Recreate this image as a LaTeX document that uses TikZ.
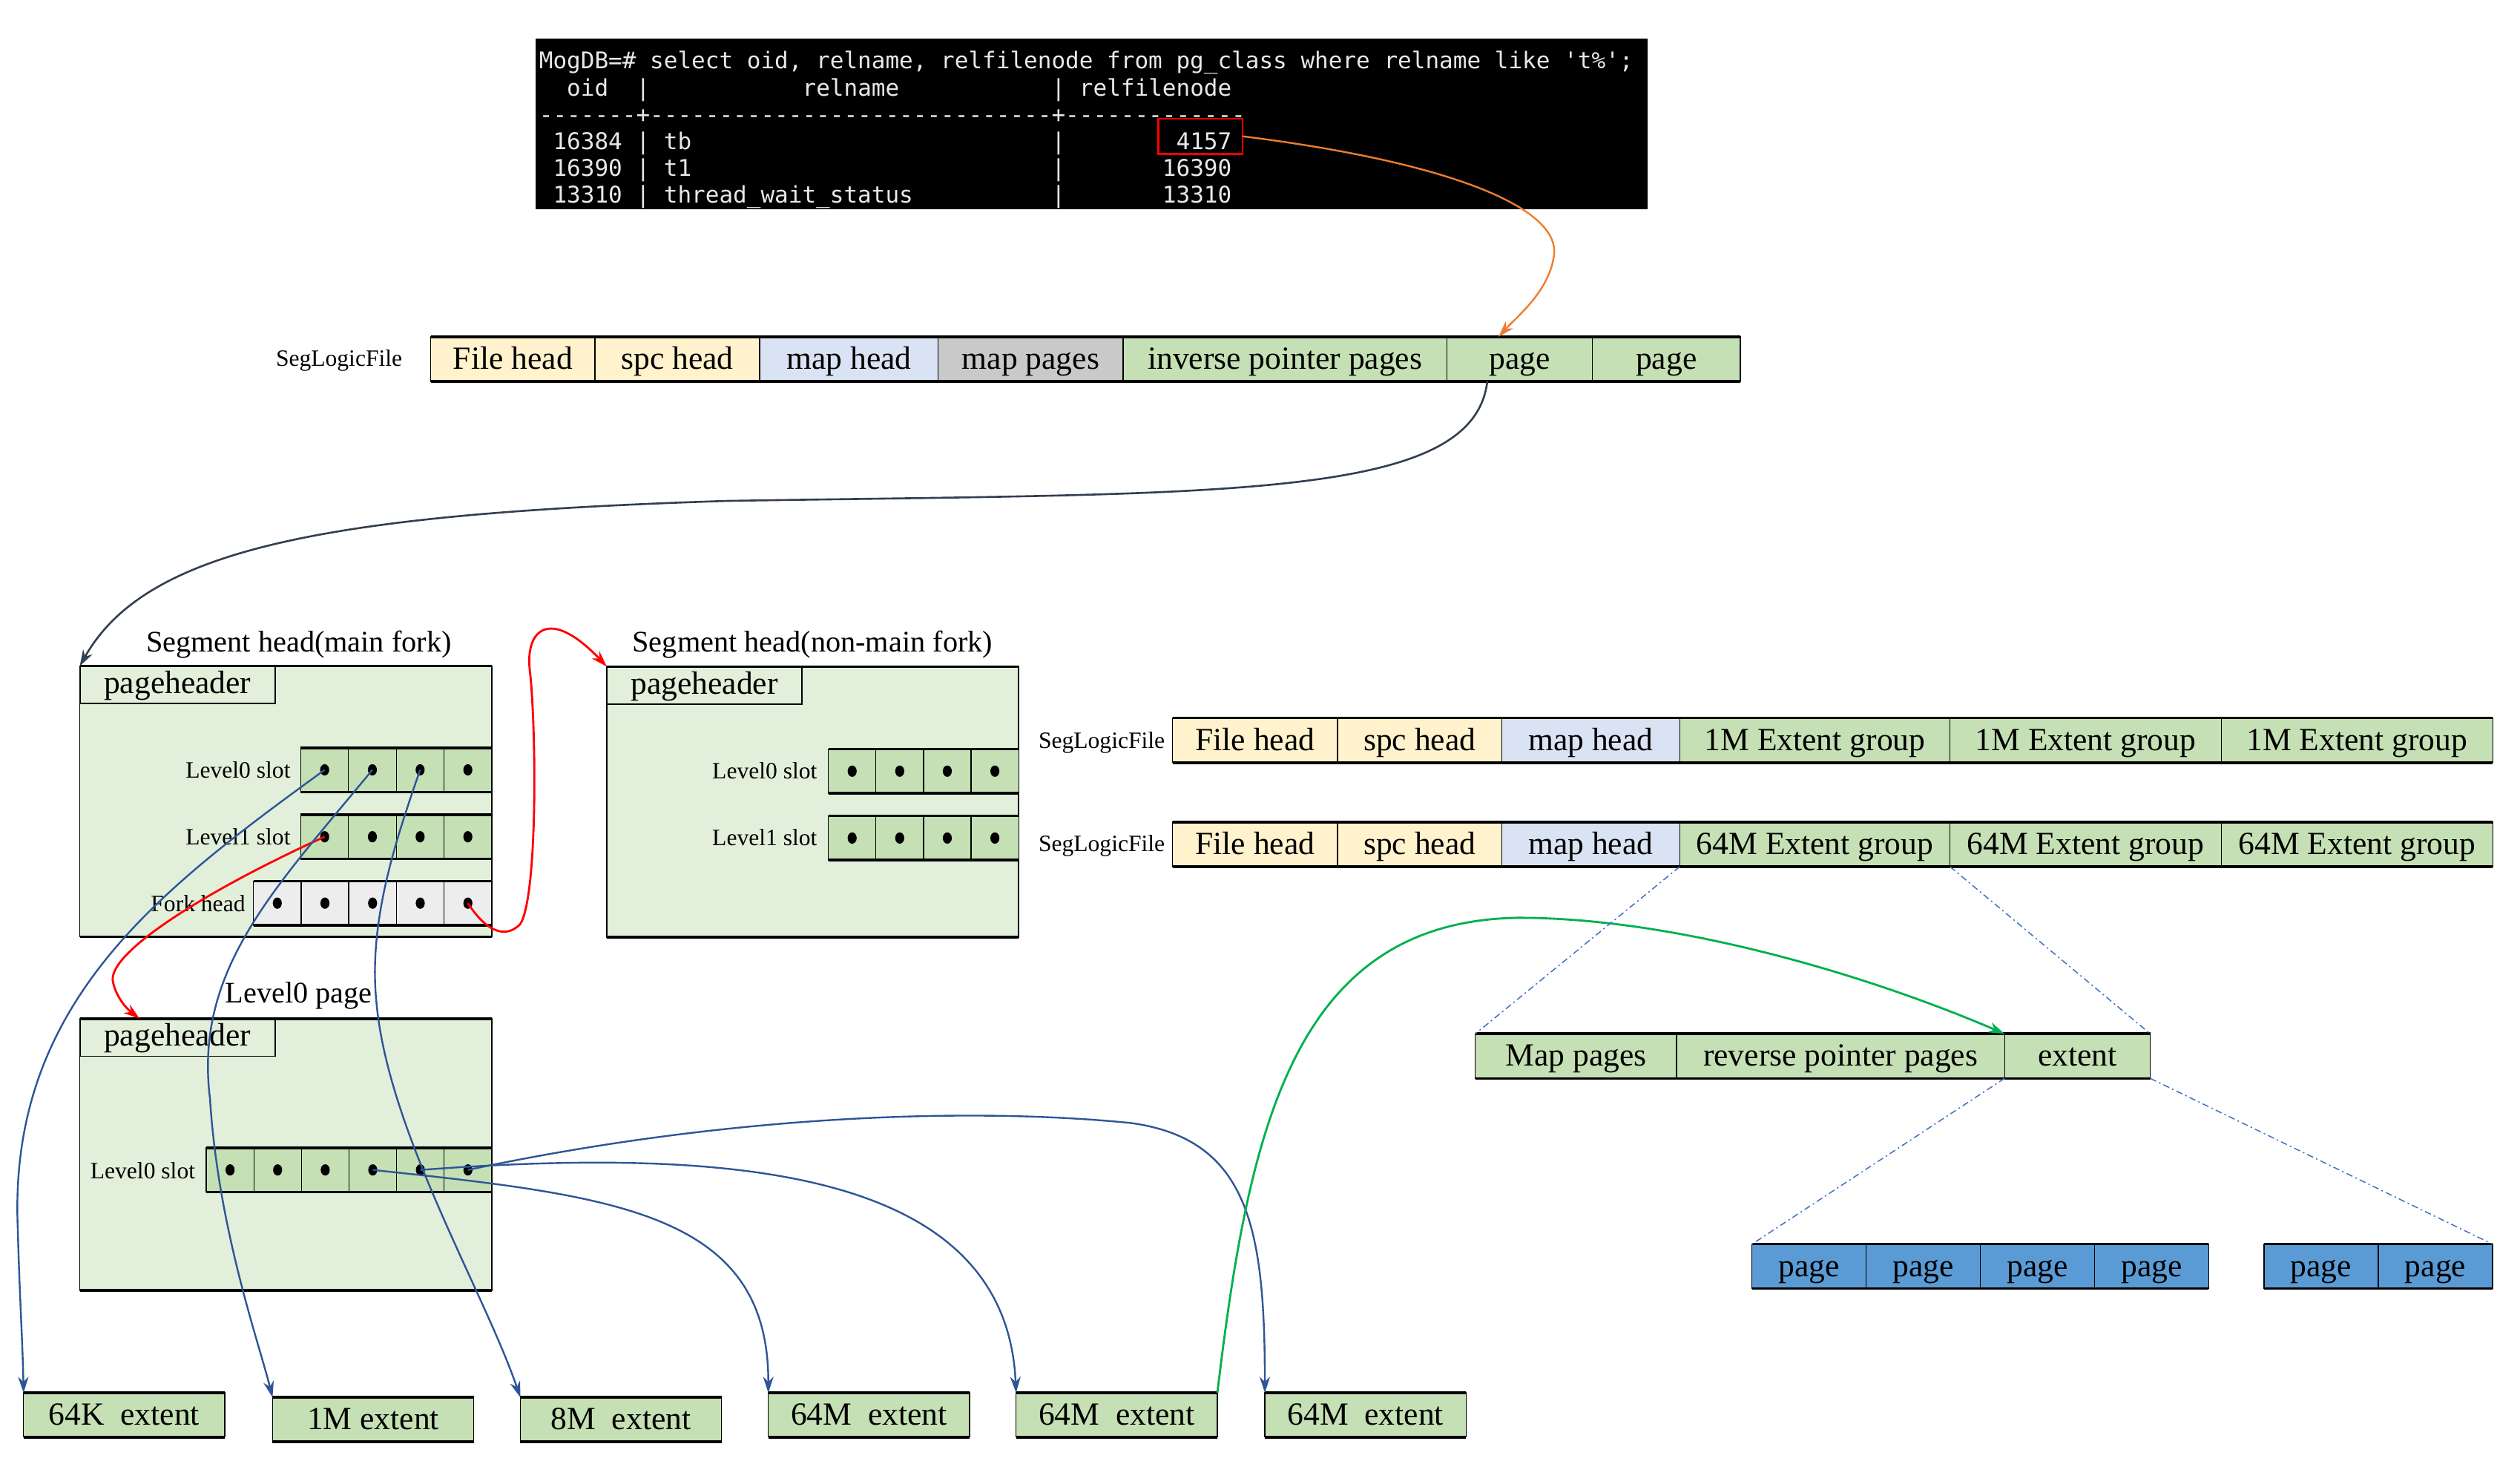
\documentclass[tikz,border=0pt]{standalone}
\usepackage{fontspec}
\setmainfont{Liberation Serif}
\newfontfamily\termfont{DejaVu Sans Mono}
\usetikzlibrary{arrows.meta,calc}
\definecolor{cyel}{HTML}{FFF2CC}
\definecolor{cblu}{HTML}{DAE3F3}
\definecolor{cgry}{HTML}{C9C9C9}
\definecolor{cgrn}{HTML}{C5E0B4}
\definecolor{clgrn}{HTML}{E2EFDA}
\definecolor{cfork}{HTML}{EDEDED}
\definecolor{cpage}{HTML}{5B9BD5}
\definecolor{cnavy}{HTML}{2F5597}
\definecolor{cdark}{HTML}{333F50}
\definecolor{corange}{HTML}{ED7D31}
\definecolor{cgreen}{HTML}{00B050}
\definecolor{cdash}{HTML}{4472C4}
\definecolor{cterm}{HTML}{E8E8E8}
\newcommand\tsp[1]{\kern#1\fontcharwd\font`0\relax}
\newcommand\tbline[2]{\draw[thk] (#1.north west) -- (#2.north east) (#1.south west) -- (#2.south east);}
\newcommand\slotdot[1]{\fill (#1.center) ellipse [x radius=2.8pt, y radius=3.5pt];}
\begin{document}
\begin{tikzpicture}[x=1pt,y=-1pt,
 cell/.style={draw=black, line width=0.6pt, anchor=north west, inner sep=0pt, outer sep=0pt, minimum height=27.6pt, text height=15.5pt, text depth=3pt, font=\fontsize{20}{24}\selectfont},
 slot/.style={draw=black, line width=0.6pt, anchor=north west, inner sep=0pt, outer sep=0pt, minimum height=27.3pt, minimum width=29.5pt, fill=cgrn},
 thk/.style={line width=1.6pt},
 lbl/.style={inner sep=0pt, font=\fontsize{14.5}{17}\selectfont},
 ttl/.style={inner sep=0pt, font=\fontsize{18.5}{22}\selectfont},
 seg/.style={draw=black, line width=0.8pt, fill=clgrn, anchor=north west, inner sep=0pt, outer sep=0pt, minimum width=255pt, minimum height=167.5pt},
 phdr/.style={draw=black, line width=0.9pt, anchor=north west, inner sep=0pt, outer sep=0pt, minimum width=121pt, minimum height=23.3pt, text height=14.5pt, text depth=4pt, font=\fontsize{20}{24}\selectfont},
 extbox/.style={cell, fill=cgrn, minimum width=124.6pt, minimum height=27.4pt},
 pagebox/.style={cell, fill=cpage, minimum width=70.7pt, minimum height=27.5pt},
 termtxt/.style={anchor=base west, inner sep=0pt, text=cterm, font=\termfont\fontsize{14.24}{16}\selectfont},
 arrowtip/.style={-{Stealth[length=10pt,width=6.5pt]}},
 nav/.style={draw=cnavy, line width=1.1pt, arrowtip},
 dd/.style={draw=cdash, line width=0.7pt, dash pattern=on 4pt off 2pt on 1pt off 2pt},
]
\useasboundingbox (0,0) rectangle (1560,905.6);

% ---------- terminal ----------
\node[fill=black, anchor=north west, inner sep=0pt, outer sep=0pt, minimum width=688.3pt, minimum height=105.7pt] (term) at (331.5,24) {};
\node[termtxt] (tl1) at (333.6,42.7) {MogDB=\# select oid, relname, relfilenode from pg\_class where relname like 't\%';};
\node[termtxt] (tl2) at (333.6,59.3) {\tsp{2}oid\tsp{2}|\tsp{11}relname\tsp{11}|\tsp{1}relfilenode};
\node[termtxt] (tl3) at (333.6,75.9) {-------+-----------------------------+-------------};
\node[termtxt] (tl4) at (333.6,92.5) {\tsp{1}16384\tsp{1}|\tsp{1}tb\tsp{26}|\tsp{8}4157};
\node[termtxt] (tl5) at (333.6,109.1) {\tsp{1}16390\tsp{1}|\tsp{1}t1\tsp{26}|\tsp{7}16390};
\node[termtxt] (tl6) at (333.6,125.7) {\tsp{1}13310\tsp{1}|\tsp{1}thread\_wait\_status\tsp{10}|\tsp{7}13310};
\node[draw=red, line width=1.3pt, inner sep=0pt, outer sep=0pt, anchor=north west, minimum width=52pt, minimum height=21.7pt] (rb) at (717.2,73.5) {};

% ---------- SegLogicFile row 1 ----------
\node[lbl] (slf1) at (209.9,223.3) {SegLogicFile};
\node[cell,fill=cyel,minimum width=101.6pt] (r1a) at (266.7,208.4) {File head};
\node[cell,fill=cyel,minimum width=102pt] (r1b) at (r1a.north east) {spc head};
\node[cell,fill=cblu,minimum width=110.5pt] (r1c) at (r1b.north east) {map head};
\node[cell,fill=cgry,minimum width=114.5pt] (r1d) at (r1c.north east) {map pages};
\node[cell,fill=cgrn,minimum width=200.3pt] (r1e) at (r1d.north east) {inverse pointer pages};
\node[cell,fill=cgrn,minimum width=90.2pt] (r1f) at (r1e.north east) {page};
\node[cell,fill=cgrn,minimum width=91.5pt] (r1g) at (r1f.north east) {page};
\tbline{r1a}{r1g}

% ---------- SegLogicFile row 2 ----------
\node[lbl] (slf2) at (682,459.5) {SegLogicFile};
\node[cell,fill=cyel,minimum width=102.1pt] (r2a) at (725.9,444.4) {File head};
\node[cell,fill=cyel,minimum width=101.6pt] (r2b) at (r2a.north east) {spc head};
\node[cell,fill=cblu,minimum width=110.2pt] (r2c) at (r2b.north east) {map head};
\node[cell,fill=cgrn,minimum width=167.4pt] (r2d) at (r2c.north east) {1M Extent group};
\node[cell,fill=cgrn,minimum width=167.8pt] (r2e) at (r2d.north east) {1M Extent group};
\node[cell,fill=cgrn,minimum width=168.1pt] (r2f) at (r2e.north east) {1M Extent group};
\tbline{r2a}{r2f}

% ---------- SegLogicFile row 3 ----------
\node[lbl] (slf3) at (682,523.5) {SegLogicFile};
\node[cell,fill=cyel,minimum width=102.1pt] (r3a) at (725.9,508.8) {File head};
\node[cell,fill=cyel,minimum width=101.6pt] (r3b) at (r3a.north east) {spc head};
\node[cell,fill=cblu,minimum width=110.2pt] (r3c) at (r3b.north east) {map head};
\node[cell,fill=cgrn,minimum width=167.4pt] (r3d) at (r3c.north east) {64M Extent group};
\node[cell,fill=cgrn,minimum width=167.8pt] (r3e) at (r3d.north east) {64M Extent group};
\node[cell,fill=cgrn,minimum width=168.1pt] (r3f) at (r3e.north east) {64M Extent group};
\tbline{r3a}{r3f}

% ---------- extent detail row ----------
\node[cell,fill=cgrn,minimum width=124.6pt] (mr1) at (913.3,639.8) {Map pages};
\node[cell,fill=cgrn,minimum width=203pt] (mr2) at (mr1.north east) {reverse pointer pages};
\node[cell,fill=cgrn,minimum width=90.2pt] (mr3) at (mr2.north east) {extent};
\tbline{mr1}{mr3}

% ---------- pages ----------
\node[pagebox] (pg1a) at (1084.5,770) {page};
\node[pagebox] (pg1b) at (pg1a.north east) {page};
\node[pagebox] (pg1c) at (pg1b.north east) {page};
\node[pagebox] (pg1d) at (pg1c.north east) {page};
\tbline{pg1a}{pg1d}
\node[pagebox,minimum width=70.75pt] (pg2a) at (1401.5,770) {page};
\node[pagebox,minimum width=70.75pt] (pg2b) at (pg2a.north east) {page};
\tbline{pg2a}{pg2b}

% ---------- Segment head (main fork) ----------
\node[ttl] (mft) at (185,399) {Segment head(main fork)};
\node[seg] (mf) at (49.4,412.2) {};
\tbline{mf}{mf}
\node[phdr] (mfh) at (49.4,412.2) {pageheader};
\node[lbl,anchor=east] (mfl0) at (180,476.5) {Level0 slot};
\node[slot,minimum width=29.55pt] (m0a) at (186.2,462.8) {};
\node[slot,minimum width=29.55pt] (m0b) at (m0a.north east) {};
\node[slot,minimum width=29.55pt] (m0c) at (m0b.north east) {};
\node[slot,minimum width=29.55pt] (m0d) at (m0c.north east) {};
\tbline{m0a}{m0d}
\node[lbl,anchor=east] (mfl1) at (180,518) {Level1 slot};
\node[slot,minimum width=29.55pt] (m1a) at (186.2,504.2) {};
\node[slot,minimum width=29.55pt] (m1b) at (m1a.north east) {};
\node[slot,minimum width=29.55pt] (m1c) at (m1b.north east) {};
\node[slot,minimum width=29.55pt] (m1d) at (m1c.north east) {};
\tbline{m1a}{m1d}
\node[lbl,anchor=east] (mffk) at (152,559) {Fork head};
\node[slot,fill=cfork] (fka) at (156.9,545.3) {};
\node[slot,fill=cfork] (fkb) at (fka.north east) {};
\node[slot,fill=cfork] (fkc) at (fkb.north east) {};
\node[slot,fill=cfork] (fkd) at (fkc.north east) {};
\node[slot,fill=cfork] (fke) at (fkd.north east) {};
\tbline{fka}{fke}

% ---------- Segment head (non-main fork) ----------
\node[ttl] (nmt) at (503,399) {Segment head(non-main fork)};
\node[seg] (nm) at (375.6,412.5) {};
\tbline{nm}{nm}
\node[phdr] (nmh) at (375.6,412.5) {pageheader};
\node[lbl,anchor=east] (nml0) at (506,477) {Level0 slot};
\node[slot,minimum width=29.45pt] (n0a) at (512.8,463.6) {};
\node[slot,minimum width=29.45pt] (n0b) at (n0a.north east) {};
\node[slot,minimum width=29.45pt] (n0c) at (n0b.north east) {};
\node[slot,minimum width=29.45pt] (n0d) at (n0c.north east) {};
\tbline{n0a}{n0d}
\node[lbl,anchor=east] (nml1) at (506,518.5) {Level1 slot};
\node[slot,minimum width=29.45pt] (n1a) at (512.8,505) {};
\node[slot,minimum width=29.45pt] (n1b) at (n1a.north east) {};
\node[slot,minimum width=29.45pt] (n1c) at (n1b.north east) {};
\node[slot,minimum width=29.45pt] (n1d) at (n1c.north east) {};
\tbline{n1a}{n1d}

% ---------- Level0 page ----------
\node[ttl] (lpt) at (185,616) {Level0 page};
\node[seg,minimum height=168.2pt] (lp) at (49.4,630.4) {};
\tbline{lp}{lp}
\node[phdr] (lph) at (49.4,630.4) {pageheader};
\node[lbl,anchor=east] (lpl0) at (121,724.5) {Level0 slot};
\node[slot,minimum width=29.45pt] (p0a) at (127.7,710.4) {};
\node[slot,minimum width=29.45pt] (p0b) at (p0a.north east) {};
\node[slot,minimum width=29.45pt] (p0c) at (p0b.north east) {};
\node[slot,minimum width=29.45pt] (p0d) at (p0c.north east) {};
\node[slot,minimum width=29.45pt] (p0e) at (p0d.north east) {};
\node[slot,minimum width=29.45pt] (p0f) at (p0e.north east) {};
\tbline{p0a}{p0f}

\foreach \n in {m0a,m0b,m0c,m0d,m1a,m1b,m1c,m1d,fka,fkb,fkc,fkd,fke,n0a,n0b,n0c,n0d,n1a,n1b,n1c,n1d,p0a,p0b,p0c,p0d,p0e,p0f} {\slotdot{\n}}

% ---------- extents ----------
\node[extbox] (e1) at (14.6,862) {64K\ \ extent};
\node[extbox] (e2) at (168.7,864.8) {1M extent};
\node[extbox] (e3) at (322.1,864.8) {8M\ \ extent};
\node[extbox] (e4) at (475.6,862) {64M\ \ extent};
\node[extbox] (e5) at (629,862) {64M\ \ extent};
\node[extbox] (e6) at (783,862) {64M\ \ extent};
\foreach \n in {e1,e2,e3,e4,e5,e6} {\tbline{\n}{\n}}

% ---------- connectors ----------
\draw[corange, line width=1.1pt, arrowtip] (rb.east) .. controls (895,100) and (966,128) .. (962,158) .. controls (959,180) and (940,195) .. ([xshift=-13pt]r1f.north);
\draw[cdark, line width=1.2pt, arrowtip] ([xshift=-20pt]r1f.south) .. controls (912,310) and (758,305) .. (450,310) .. controls (200,318) and (90,340) .. (mf.north west);
\draw[red, line width=1.3pt, arrowtip] (fke.center) .. controls (300,575) and (312,582) .. (322,572) .. controls (333,555) and (332,450) .. (328,415) .. controls (325,390) and (340,375) .. (nm.north west);
\draw[red, line width=1.3pt, arrowtip] (m1a.center) .. controls (130,550) and (65,590) .. (70,608) .. controls (72,617) and (78,624) .. ([xshift=37pt]lp.north west);

\draw[nav] (m0a.center) .. controls (100,550) and (5,620) .. (11,760) .. controls (12,800) and (14,830) .. (e1.north west);
\draw[nav] (m0b.center) .. controls (170,550) and (120,600) .. (130,680) .. controls (135,760) and (160,830) .. (e2.north west);
\draw[nav] (m0c.center) .. controls (245,520) and (228,570) .. (233,620) .. controls (240,700) and (300,800) .. (e3.north west);
\draw[nav] (p0d.center) .. controls (380,740) and (476,750) .. (e4.north west);
\draw[nav] (p0e.center) .. controls (450,710) and (623,722) .. (e5.north west);
\draw[nav] (p0f.center) .. controls (450,690) and (600,685) .. (700,695) .. controls (773,705) and (783,760) .. (e6.north west);

\draw[cgreen, line width=1.3pt, arrowtip] (e5.north east) .. controls (773,700) and (800,570) .. (940,568) .. controls (1040,568) and (1160,605) .. (mr3.north west);

\draw[dd] (r3d.south west) -- (mr1.north west);
\draw[dd] (r3e.south west) -- (mr3.north east);
\draw[dd] (mr3.south west) -- (pg1a.north west);
\draw[dd] (mr3.south east) -- (pg2b.north east);
\end{tikzpicture}
\end{document}
